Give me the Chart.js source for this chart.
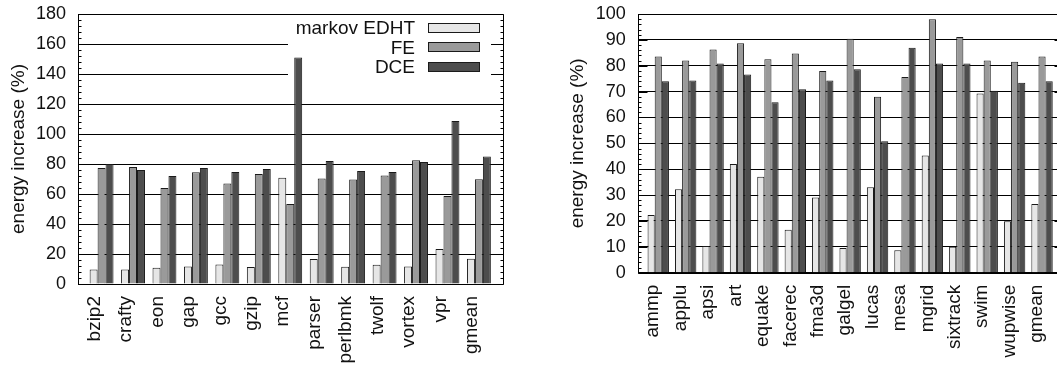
<!DOCTYPE html>
<html>
<head>
<meta charset="utf-8">
<script src="https://cdn.jsdelivr.net/npm/chart.js@4/dist/chart.umd.min.js"></script>
<style>
  html, body { margin: 0; padding: 0; background: #fff; overflow: hidden; width: 1057px; height: 368px; }
  #c1 { position: absolute; left: 0; top: 0; }
  #c2 { position: absolute; left: 520px; top: 0; }
</style>
</head>
<body>
<canvas id="c1" width="515" height="368"></canvas>
<canvas id="c2" width="560" height="368"></canvas>
<script>
// ---- data ----
const seriesNames = ['markov EDHT', 'FE', 'DCE'];
const seriesColors = ['#e6e6e6', '#9a9a9a', '#4d4d4d'];

const intCategories = ['bzip2','crafty','eon','gap','gcc','gzip','mcf','parser','perlbmk','twolf','vortex','vpr','gmean'];
const intEDHT = [9.7, 9.7, 10.8, 11.7, 13.0, 11.3, 70.8, 16.6, 11.5, 12.8, 11.7, 23.4, 16.8];
const intFE   = [77.4, 78.0, 64.0, 74.5, 67.0, 73.4, 53.3, 70.3, 69.7, 72.3, 82.5, 58.6, 69.9];
const intDCE  = [80.0, 76.0, 72.0, 77.4, 74.7, 76.7, 151.0, 82.0, 75.4, 74.7, 81.4, 108.6, 85.0];
const intYTicks = [0, 20, 40, 60, 80, 100, 120, 140, 160, 180];

const fpCategories = ['ammp','applu','apsi','art','equake','facerec','fma3d','galgel','lucas','mesa','mgrid','sixtrack','swim','wupwise','gmean'];
const fpEDHT = [22.3, 32.3, 10.3, 42.0, 37.1, 16.6, 29.1, 9.5, 33.0, 8.7, 45.3, 10.0, 69.3, 19.9, 26.6];
const fpFE   = [83.6, 82.0, 86.3, 88.7, 82.5, 84.7, 78.0, 90.4, 68.0, 75.6, 98.0, 91.1, 82.0, 81.5, 83.6];
const fpDCE  = [74.0, 74.3, 80.9, 76.6, 65.9, 70.9, 74.3, 78.6, 50.8, 87.0, 80.9, 80.9, 70.3, 73.4, 74.0];
const fpYTicks = [0, 10, 20, 30, 40, 50, 60, 70, 80, 90, 100];

const yTitle = 'energy increase (%)';
const FONT = "'Liberation Sans', Arial, Helvetica, sans-serif";
const TEXT = '#111';

function makeDatasets(seriesList, groupPct) {
  return seriesList.map((vals, s) => ({
    label: seriesNames[s],
    data: vals.map((v, i) => ({ x: i, y: v })),
    backgroundColor: seriesColors[s],
    borderColor: '#1a1a1a',
    borderWidth: 1,
    borderSkipped: 'start',
    categoryPercentage: groupPct,
    barPercentage: 1.0
  }));
}

// frame, inward ticks, optional legend
function framePlugin(cfg) {
  return {
    id: 'frame_' + cfg.name,
    beforeDatasetsDraw(chart) {
      if (!cfg.legend) return;
      const ctx = chart.ctx;
      const L = cfg.legend;
      ctx.save();
      ctx.fillStyle = '#fff';
      ctx.fillRect(L.boxLeft, chart.chartArea.top + 1, L.boxRight - L.boxLeft, L.boxBottom - chart.chartArea.top - 1);
      ctx.restore();
    },
    afterDatasetsDraw(chart) {
      const ctx = chart.ctx;
      const a = chart.chartArea;
      const y = chart.scales.y;
      const l = Math.round(a.left) + 0.5, r = Math.round(a.right) + 0.5;
      const t = Math.round(a.top) + 0.5, b = Math.round(a.bottom) + 0.5;
      ctx.save();
      ctx.strokeStyle = '#000';
      ctx.lineWidth = 1;
      for (let v = y.min; v <= y.max + 1e-9; v += cfg.minor) {
        const py = Math.round(y.getPixelForValue(v)) + 0.5;
        const major = Math.abs(v / cfg.major - Math.round(v / cfg.major)) < 1e-6;
        const len = major ? 9 : 3;
        ctx.beginPath();
        ctx.moveTo(l, py); ctx.lineTo(l + len, py);
        ctx.moveTo(r, py); ctx.lineTo(r - len, py);
        ctx.stroke();
      }
      ctx.beginPath();
      ctx.rect(l, t, r - l, b - t);
      ctx.stroke();
      if (cfg.legend) {
        const L = cfg.legend;
        ctx.font = L.font;
        ctx.textAlign = 'right';
        ctx.textBaseline = 'middle';
        chart.data.datasets.forEach((ds, i) => {
          const cy = L.firstY + i * L.rowH;
          ctx.fillStyle = TEXT;
          ctx.fillText(ds.label, L.textRight, cy + 1);
          const sx = L.sampleLeft, sw = L.sampleW, sh = L.sampleH;
          const sy = Math.round(cy - sh / 2);
          ctx.fillStyle = ds.backgroundColor;
          ctx.fillRect(sx, sy, sw, sh);
          ctx.strokeStyle = '#1a1a1a';
          ctx.strokeRect(sx + 0.5, sy + 0.5, sw - 1, sh - 1);
        });
      }
      ctx.restore();
    }
  };
}

function makeChart(canvasId, opt) {
  return new Chart(document.getElementById(canvasId), {
    type: 'bar',
    data: { datasets: makeDatasets(opt.series, opt.groupPct) },
    options: {
      responsive: false,
      animation: false,
      events: [],
      layout: { padding: { top: opt.padTop, right: opt.padRight, left: 0, bottom: 0 } },
      plugins: { legend: { display: false }, tooltip: { enabled: false } },
      scales: {
        x: {
          type: 'linear',
          min: opt.xMin, max: opt.xMax,
          offset: false,
          grid: { display: false, offset: false, drawTicks: false },
          border: { display: false },
          afterBuildTicks: (s) => { s.ticks = opt.categories.map((c, i) => ({ value: i })); },
          afterFit: (s) => { s.height = opt.xHeight; s.paddingLeft = 0; s.paddingRight = 0; },
          ticks: {
            autoSkip: false, minRotation: 90, maxRotation: 90, padding: opt.xPad,
            labelOffset: opt.labelOffset,
            font: { family: FONT, size: 19 }, color: TEXT,
            callback: (v, i) => opt.categories[i]
          }
        },
        y: {
          min: 0, max: opt.yTicks[opt.yTicks.length - 1],
          afterBuildTicks: (s) => { s.ticks = opt.yTicks.map(v => ({ value: v })); },
          afterFit: (s) => { s.width = opt.yWidth; s.paddingTop = 0; s.paddingBottom = 0; },
          grid: { color: '#000', lineWidth: 1, drawTicks: false },
          border: { display: false },
          ticks: { padding: 12, font: { family: FONT, size: 18 }, color: TEXT },
          title: { display: true, text: yTitle, font: { family: FONT, size: 19 }, color: TEXT,
                   padding: { top: opt.titlePad, bottom: 0 } }
        }
      }
    },
    plugins: [framePlugin({ name: canvasId, minor: opt.minor, major: opt.major, legend: opt.legend })]
  });
}

makeChart('c1', {
  categories: intCategories,
  series: [intEDHT, intFE, intDCE],
  yTicks: intYTicks,
  groupPct: 0.76,
  xMin: -0.75, xMax: 12.75,
  labelOffset: -7,
  padTop: 14, padRight: 12.5,
  xHeight: 84, xPad: 12,
  yWidth: 78, titlePad: 7,
  minor: 4, major: 20,
  legend: {
    boxLeft: 288, boxRight: 491, boxBottom: 86,
    textRight: 415, firstY: 28, rowH: 19.3,
    sampleLeft: 428, sampleW: 52, sampleH: 10,
    font: "19px " + FONT
  }
});

makeChart('c2', {
  categories: fpCategories,
  series: [fpEDHT, fpFE, fpDCE],
  yTicks: fpYTicks,
  groupPct: 0.78,
  xMin: -0.75, xMax: 14.75,
  labelOffset: -5,
  padTop: 14, padRight: 17.4,
  xHeight: 95.3, xPad: 12,
  yWidth: 117.7, titlePad: 46.6,
  minor: 2, major: 10,
  legend: null
});
</script>
</body>
</html>
